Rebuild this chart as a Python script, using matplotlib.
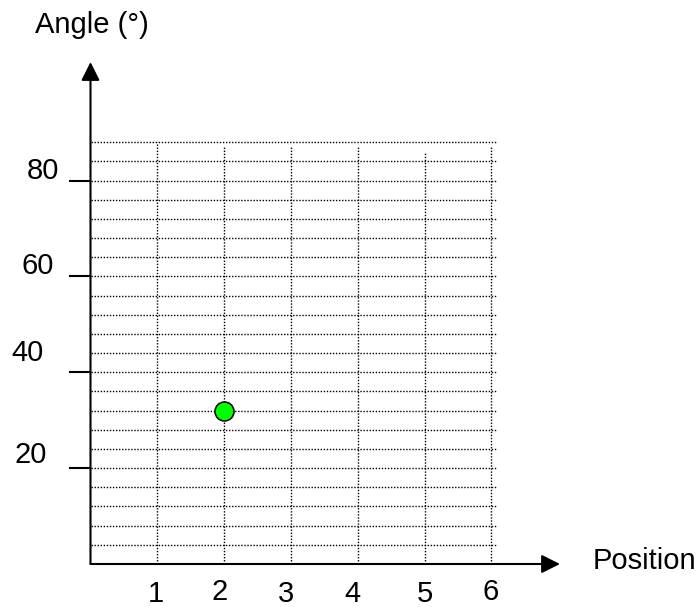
import numpy as np
import matplotlib.pyplot as plt

plt.rcParams['font.family'] = ['Liberation Sans', 'DejaVu Sans']

# measured point
position = [2]
angle = [32]

x_ticks = [1, 2, 3, 4, 5, 6]
y_ticks = [20, 40, 60, 80]

# hand placed labels, offsets in pixels from the tick position (dx, dy)
x_lab_off = [(-1, -37.5), (-4, -36), (-5, -38), (-5, -37.5), (0, -37.8), (-1, -36)]
y_lab_off = [(-59.5, 5), (-63.5, 11.3), (-52.5, 2.4), (-47.5, 1.6)]
# top ends of the vertical grid lines
vgrid_top = [88, 87, 87, 87, 86, 87]

W, H = 698, 607
x0_px, y0_px = 90.5, 564
sx, sy = 66.8, 4.793
tip_x, tip_y = 560, 62

fig = plt.figure(figsize=(W / 100, H / 100), dpi=100)
ax = fig.add_axes([x0_px / W, (H - y0_px) / H, (tip_x - x0_px) / W, (y0_px - tip_y) / H])
ax.set_xlim(0, (tip_x - x0_px) / sx)
ax.set_ylim(0, (y0_px - tip_y) / sy)
for s in ax.spines.values():
    s.set_visible(False)

# dotted grid
dots = (0, (1, 1.2))
ax.hlines(np.arange(4, 89, 4), 0, 6.08, colors='k', lw=1.0, linestyles=dots, zorder=1)
ax.vlines(x_ticks, 0, vgrid_top, colors='k', lw=1.0, linestyles=dots, zorder=1)

# axes with arrow heads
arr = dict(arrowstyle='-|>,head_length=0.8,head_width=0.4', color='k', lw=1.5,
           mutation_scale=14, shrinkA=0, shrinkB=0)
ax.annotate('', xy=(ax.get_xlim()[1], 0), xytext=(0, 0), arrowprops=arr,
            annotation_clip=False, zorder=3)
ax.annotate('', xy=(0, ax.get_ylim()[1]), xytext=(0, 0), arrowprops=arr,
            annotation_clip=False, zorder=3)

ax.set_xticks([])
ax.set_yticks(y_ticks)
ax.tick_params(axis='y', direction='out', length=15.8, width=1.5, labelleft=False)

for v, (dx, dy) in zip(y_ticks, y_lab_off):
    ax.annotate(str(v), xy=(0, v), xytext=(dx, dy), textcoords='offset pixels',
                ha='center', va='baseline', fontsize=21, annotation_clip=False)
for v, (dx, dy) in zip(x_ticks, x_lab_off):
    ax.annotate(str(v), xy=(v, 0), xytext=(dx, dy), textcoords='offset pixels',
                ha='center', va='baseline', fontsize=21, annotation_clip=False)

ax.plot(position, angle, 'o', color='#00ff00', markersize=13.7,
        markeredgecolor='k', markeredgewidth=1.1, zorder=4, clip_on=False)

fig.text(35 / W, 1 - 33 / H, 'Angle (°)', fontsize=21, ha='left', va='baseline')
fig.text(593 / W, 1 - 569 / H, 'Position', fontsize=21, ha='left', va='baseline')

fig.savefig('out.png', dpi=100)
